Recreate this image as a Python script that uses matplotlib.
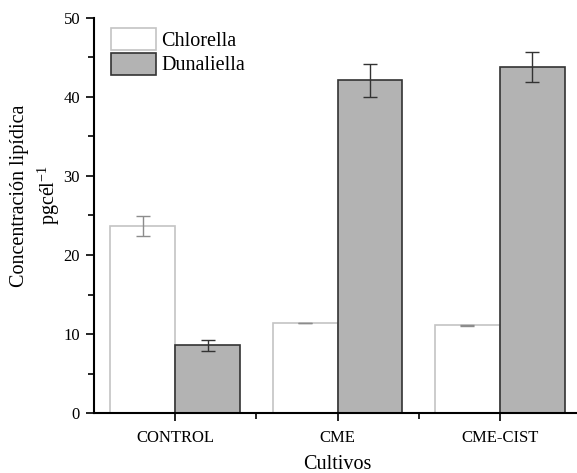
import numpy as np
import matplotlib.pyplot as plt
from matplotlib.ticker import MultipleLocator, FixedLocator

plt.rcParams['font.family'] = ['Liberation Serif', 'DejaVu Serif']
plt.rcParams['mathtext.fontset'] = 'custom'
plt.rcParams['mathtext.rm'] = 'Liberation Serif'

# Data
cultivos = ['CONTROL', 'CME', 'CME-CIST']
chlorella = [23.65, 11.4, 11.1]
chlorella_err = [1.25, 0.05, 0.05]
dunaliella = [8.55, 42.1, 43.8]
dunaliella_err = [0.75, 2.05, 1.95]

x = np.arange(len(cultivos))
w = 0.4

fig = plt.figure(figsize=(5.77, 4.73), dpi=100)
ax = fig.add_axes([94/577, 60/473, 487/577, 395/473])

ax.bar(x - w/2, chlorella, w, color='white', edgecolor='#c4c4c4', linewidth=1.2,
       yerr=chlorella_err, ecolor='#8c8c8c', capsize=5, error_kw=dict(elinewidth=1, capthick=1),
       label='Chlorella')
ax.bar(x + w/2, dunaliella, w, color='#b3b3b3', edgecolor='#333333', linewidth=1.2,
       yerr=dunaliella_err, ecolor='#333333', capsize=5, error_kw=dict(elinewidth=1, capthick=1),
       label='Dunaliella')

ax.set_xlim(-0.5, 2.5)
ax.set_ylim(0, 50)
ax.set_xticks(x)
ax.set_xticklabels(cultivos, fontsize=12)
ax.xaxis.set_minor_locator(FixedLocator([0.5, 1.5]))
ax.yaxis.set_major_locator(MultipleLocator(10))
ax.yaxis.set_minor_locator(MultipleLocator(5))
ax.tick_params(axis='y', labelsize=12, pad=4)
ax.tick_params(axis='x', pad=6)
ax.tick_params(which='major', direction='out', length=6, width=1.2)
ax.tick_params(which='minor', direction='out', length=4, width=1.2)

for s in ['top', 'right']:
    ax.spines[s].set_visible(False)
for s in ['left', 'bottom']:
    ax.spines[s].set_linewidth(1.5)

ax.set_xlabel('Cultivos', fontsize=14.5, labelpad=7)
ax.set_ylabel('Concentración lipídica\npgcél$^{\\mathregular{-1}}$', fontsize=14.5,
              linespacing=1.3)
ax.yaxis.set_label_coords(-0.066, 0.551)

ax.legend(loc='upper left', bbox_to_anchor=(0.018, 0.995), frameon=False, fontsize=14.5,
          handlelength=2.24, handleheight=1.3, handletextpad=0.25, labelspacing=0.1,
          borderaxespad=0)

fig.savefig('out.png', dpi=100)
